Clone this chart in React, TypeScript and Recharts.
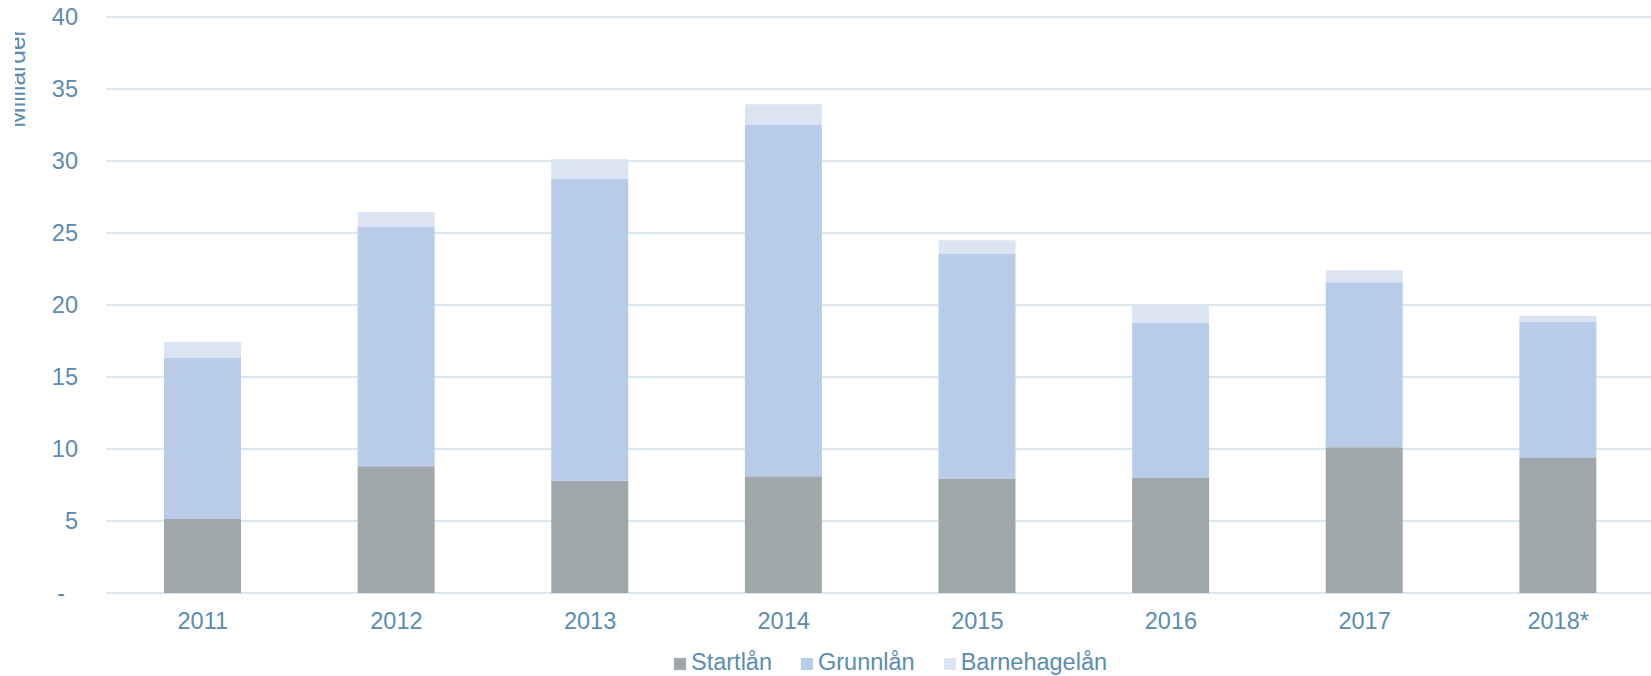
import React from "react";
import { BarChart, Bar, XAxis, YAxis, CartesianGrid, Legend, Label } from "recharts";

const years = ["2011", "2012", "2013", "2014", "2015", "2016", "2017", "2018*"];
const startlan = [5.14, 8.8, 7.8, 8.1, 7.96, 7.99, 10.12, 9.38];
const grunnlan = [11.18, 16.62, 20.98, 24.43, 15.58, 10.76, 11.46, 9.44];
const barnehagelan = [1.11, 1.04, 1.34, 1.41, 0.95, 1.18, 0.83, 0.44];
const yTicks = [0, 5, 10, 15, 20, 25, 30, 35, 40];

const seriesNames = ["Startlån", "Grunnlån", "Barnehagelån"];
const seriesColors = ["#a0a7aa", "#b8cbe8", "#dbe4f3"];

const data = years.map((y, i) => ({
  year: y,
  s: startlan[i],
  g: grunnlan[i],
  b: barnehagelan[i],
}));

const FONT = "'Liberation Sans', Arial, sans-serif";
const TEXT = "#5a8cb0";
const FS = 23.5;

const YTick = (props: any) => {
  const { x, y, payload } = props;
  const isZero = payload.value === 0;
  return (
    <text
      x={x}
      y={y}
      dx={isZero ? -13 : 0}
      dy="0.355em"
      textAnchor="end"
      fill={TEXT}
      fontSize={FS}
      fontFamily={FONT}
    >
      {isZero ? "-" : String(payload.value)}
    </text>
  );
};

const LegendContent = () => (
  <div
    style={{
      position: "absolute",
      left: 659,
      top: 13.4,
      display: "flex",
      alignItems: "flex-start",
      fontFamily: FONT,
      fontSize: FS,
      lineHeight: "27px",
      color: TEXT,
      whiteSpace: "nowrap",
    }}
  >
    {seriesNames.map((n, i) => (
      <div key={n} style={{ display: "flex", alignItems: "flex-start", marginRight: i < 2 ? 29 : 0 }}>
        <span
          style={{
            display: "inline-block",
            width: 12,
            height: 12,
            marginTop: 8.3,
            marginRight: 5,
            background: seriesColors[i],
          }}
        />
        <span>{n}</span>
      </div>
    ))}
  </div>
);

const YLabel = (props: any) => (
  <text
    x={10}
    y={78}
    transform="rotate(-90 10 78)"
    textAnchor="middle"
    fill={TEXT}
    fontSize={24.5}
    fontFamily={FONT}
  >
    Milliarder
  </text>
);

export default function App() {
  return (
    <div style={{ position: "absolute", left: 15, top: 0, width: 1636, height: 676, overflow: "hidden" }}>
      <BarChart
        width={1640}
        height={676}
        data={data}
        margin={{ top: 17, right: 0, left: 0, bottom: 0 }}
        barSize={77}
      >
        <CartesianGrid vertical={false} stroke="#dce6ef" strokeWidth={2} />
        <XAxis
          dataKey="year"
          height={43}
          axisLine={false}
          tickLine={false}
          tickSize={0}
          tickMargin={19}
          tick={{ fill: TEXT, fontSize: FS, fontFamily: FONT }}
        />
        <YAxis
          width={91}
          domain={[0, 40]}
          ticks={yTicks}
          interval={0}
          axisLine={false}
          tickLine={false}
          tickSize={0}
          tickMargin={28}
          tick={<YTick />}
        >
          <Label content={<YLabel />} />
        </YAxis>
        <Legend
          verticalAlign="bottom"
          content={<LegendContent />}
          wrapperStyle={{ left: 0, top: 636, bottom: "auto", width: 1636, height: 40 }}
        />
        <Bar dataKey="s" name={seriesNames[0]} stackId="a" fill={seriesColors[0]} isAnimationActive={false} />
        <Bar dataKey="g" name={seriesNames[1]} stackId="a" fill={seriesColors[1]} isAnimationActive={false} />
        <Bar dataKey="b" name={seriesNames[2]} stackId="a" fill={seriesColors[2]} isAnimationActive={false} />
      </BarChart>
    </div>
  );
}
